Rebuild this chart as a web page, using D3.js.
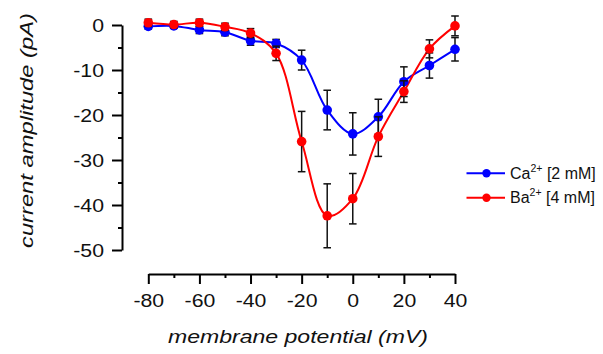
<!DOCTYPE html>
<html><head><meta charset="utf-8">
<script src="https://cdn.jsdelivr.net/npm/d3@7"></script>
<style>
body{margin:0;background:#fff;}
text{font-family:"Liberation Sans",Arial,sans-serif;fill:#111;}
</style></head>
<body><svg id="c" width="603" height="354"></svg>
<script>
const voltages = [-80,-70,-60,-50,-40,-30,-20,-10,0,10,20,30,40];
const caValues = [-0.3,-0.2,-1.1,-1.6,-3.5,-4.1,-7.8,-18.9,-24.2,-20.4,-12.6,-9.0,-5.4];
const caErrors = [0.6,0.5,0.8,0.8,1.0,0.9,2.2,4.4,4.7,3.9,3.3,2.8,2.6];
const baValues = [0.5,0.1,0.5,-0.4,-1.8,-6.3,-25.9,-42.4,-38.6,-24.8,-14.8,-5.3,-0.2];
const baErrors = [0.8,0.7,0.8,0.8,1.0,1.6,6.7,7.1,5.6,4.4,2.4,2.0,2.2];
const xTicks = [-80,-60,-40,-20,0,20,40];
const xMinorTicks = [-70,-50,-30,-10,10,30];
const yTicks = [0,-10,-20,-30,-40,-50];
const yMinorTicks = [-5,-15,-25,-35,-45];

const series = [
  {name:"Ca", ion:"2+", conc:"[2 mM]", color:"#0000ff", values:caValues, errors:caErrors},
  {name:"Ba", ion:"2+", conc:"[4 mM]", color:"#ff0000", values:baValues, errors:baErrors}
];

const svg = d3.select("#c");
const x = d3.scaleLinear().domain([-80,40]).range([148.3,455]);
const y = d3.scaleLinear().domain([0,-50]).range([25,250]);
const xAxisY = 274, yAxisX = 122;
const SX = 1.12;
const fmt = d => String(d);

// axes
const gx = svg.append("g").attr("transform",`translate(0,${xAxisY})`)
  .call(d3.axisBottom(x).tickValues(xTicks).tickFormat(fmt).tickSize(10).tickSizeOuter(0).tickPadding(10));
svg.append("g").attr("transform",`translate(0,${xAxisY})`)
  .call(d3.axisBottom(x).tickValues(xMinorTicks).tickSize(4).tickSizeOuter(0).tickFormat(""))
  .select(".domain").remove();
const gy = svg.append("g").attr("transform",`translate(${yAxisX},0)`)
  .call(d3.axisLeft(y).tickValues(yTicks).tickFormat(fmt).tickSize(10).tickSizeOuter(0).tickPadding(8));
svg.append("g").attr("transform",`translate(${yAxisX},0)`)
  .call(d3.axisLeft(y).tickValues(yMinorTicks).tickSize(4).tickSizeOuter(0).tickFormat(""))
  .select(".domain").remove();

svg.selectAll(".domain").attr("stroke","#000").attr("stroke-width",2);
svg.selectAll(".tick line").attr("stroke","#000").attr("stroke-width",2);
[gx,gy].forEach(g=>{
  g.selectAll("text").attr("font-size",19).attr("fill","#111")
   .attr("font-family","Liberation Sans, Arial, sans-serif")
   .each(function(){
     const t=d3.select(this); const tx=+t.attr("x")||0;
     t.attr("x",0).attr("transform",`translate(${tx},0) scale(${SX},1)`);
   });
});

// titles
svg.append("text").attr("x",298).attr("y",343).attr("text-anchor","middle")
  .attr("font-size",19).attr("font-style","italic")
  .attr("textLength",260).attr("lengthAdjust","spacingAndGlyphs")
  .text("membrane potential (mV)");
svg.append("text").attr("transform","translate(32.5,130.5) rotate(-90)")
  .attr("text-anchor","middle").attr("font-size",19).attr("font-style","italic")
  .attr("textLength",235).attr("lengthAdjust","spacingAndGlyphs")
  .text("current amplitude (pA)");

// lines
const line = d3.line().x((d,i)=>x(voltages[i])).y(d=>y(d)).curve(d3.curveCatmullRom.alpha(0.5));
series.forEach(s=>{
  svg.append("path").datum(s.values).attr("d",line)
    .attr("fill","none").attr("stroke",s.color).attr("stroke-width",2);
});

// error bars and markers
series.forEach(s=>{
  const g = svg.append("g");
  const pts = voltages.map((v,i)=>({v, val:s.values[i], err:s.errors[i]}));
  const eb = g.selectAll(".eb").data(pts).enter().append("g").attr("stroke","#111").attr("stroke-width",1.5);
  eb.append("line").attr("x1",d=>x(d.v)).attr("x2",d=>x(d.v)).attr("y1",d=>y(d.val+d.err)).attr("y2",d=>y(d.val-d.err));
  eb.append("line").attr("x1",d=>x(d.v)-3.8).attr("x2",d=>x(d.v)+3.8).attr("y1",d=>y(d.val+d.err)).attr("y2",d=>y(d.val+d.err));
  eb.append("line").attr("x1",d=>x(d.v)-3.8).attr("x2",d=>x(d.v)+3.8).attr("y1",d=>y(d.val-d.err)).attr("y2",d=>y(d.val-d.err));
  g.selectAll("circle").data(pts).enter().append("circle")
    .attr("cx",d=>x(d.v)).attr("cy",d=>y(d.val)).attr("r",4.8).attr("fill",s.color);
});

// legend
const legY = [173.3, 197.7];
series.forEach((s,i)=>{
  const g = svg.append("g").attr("transform",`translate(0,${legY[i]})`);
  g.append("line").attr("x1",466.5).attr("x2",505).attr("y1",0).attr("y2",0).attr("stroke",s.color).attr("stroke-width",2);
  g.append("circle").attr("cx",486.5).attr("cy",0).attr("r",4.2).attr("fill",s.color);
  const t = g.append("text").attr("x",510).attr("y",5.5).attr("font-size",16);
  t.append("tspan").text(s.name);
  t.append("tspan").attr("font-size",10.5).attr("dy",-7).text(s.ion);
  t.append("tspan").attr("dy",7).text(" " + s.conc);
});
</script></body></html>
